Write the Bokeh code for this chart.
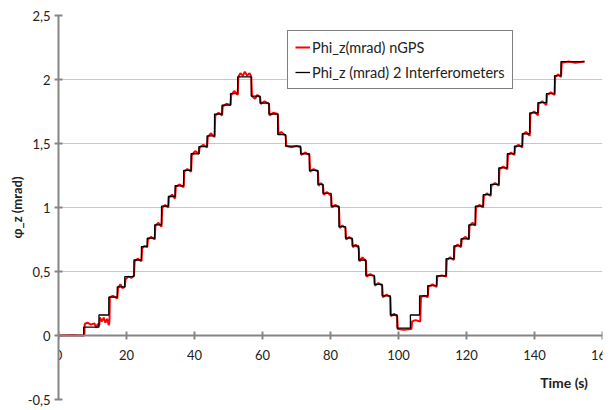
from bokeh.plotting import figure
from bokeh.models import FixedTicker, Label, Legend, LegendItem, Range1d
from bokeh.embed import file_html
from bokeh.resources import INLINE

# ---- data ----
x_ticks = [0, 20, 40, 60, 80, 100, 120, 140, 160]
y_ticks = [-0.5, 0, 0.5, 1, 1.5, 2, 2.5]
y_tick_labels = ["-0,5", "0", "0,5", "1", "1,5", "2", "2,5"]

# black: 2 interferometers, step function (time of step, level after step)
interf_t = [0, 7.4, 11.9, 14.8, 17.3, 19.5, 22.2, 24.4, 26.1, 28.3, 30.3, 32.3, 34.3,
            36.8, 39.0, 41.3, 43.7, 45.9, 48.1, 50.6, 52.7, 56.7, 59.3, 61.9, 64.5,
            66.8, 71.2, 73.8, 76.3, 77.8, 80.2, 82.5, 84.4, 86.4, 88.3, 90.4, 92.9,
            95.2, 97.6, 99.6, 103.5, 106.2, 108.6, 111.2, 114.0, 116.3, 118.4, 120.7,
            122.6, 124.9, 127.1, 129.5, 132.0, 134.1, 136.4, 138.6, 141.0, 143.5,
            145.9, 147.8, 154.7]
interf_v = [0.0, 0.065, 0.16, 0.30, 0.38, 0.46, 0.59, 0.695, 0.76, 0.865, 1.01, 1.086,
            1.17, 1.29, 1.42, 1.476, 1.56, 1.73, 1.80, 1.89, 2.02, 1.87, 1.815, 1.73,
            1.57, 1.48, 1.42, 1.29, 1.18, 1.11, 1.01, 0.85, 0.76, 0.70, 0.59, 0.47,
            0.40, 0.31, 0.16, 0.057, 0.16, 0.31, 0.39, 0.466, 0.60, 0.70, 0.755,
            0.865, 1.01, 1.10, 1.18, 1.31, 1.42, 1.48, 1.576, 1.74, 1.82, 1.89, 2.03,
            2.14, 2.14]

# red: nGPS trace (time, value) points
ngps_pts = [
    (0, 0.0), (4, 0.004), (7.6, 0.0),
    (7.7, 0.09), (8.5, 0.10), (9.5, 0.085), (10.5, 0.095), (11.2, 0.06), (11.5, 0.09), (12.0, 0.08),
    (12.2, 0.14), (12.8, 0.11), (13.3, 0.14), (13.8, 0.10), (14.3, 0.13), (14.8, 0.08), (15.0, 0.12),
    (15.1, 0.30), (16.0, 0.31), (17.3, 0.29),
    (17.5, 0.37), (18.2, 0.40), (18.8, 0.37), (19.5, 0.38),
    (19.7, 0.44), (20.5, 0.46), (21.5, 0.45), (22.2, 0.47),
    (22.4, 0.58), (23.3, 0.60), (24.4, 0.58),
    (24.6, 0.68), (25.3, 0.70), (26.1, 0.69),
    (26.3, 0.75), (27.2, 0.77), (28.3, 0.75),
    (28.5, 0.86), (29.4, 0.88), (30.3, 0.85),
    (30.5, 1.00), (31.4, 1.02), (32.3, 1.00),
    (32.5, 1.08), (33.4, 1.10), (34.3, 1.07),
    (34.5, 1.16), (35.5, 1.18), (36.8, 1.16),
    (37.0, 1.28), (37.9, 1.30), (39.0, 1.28),
    (39.2, 1.41), (40.2, 1.44), (41.3, 1.42),
    (41.5, 1.47), (42.6, 1.49), (43.7, 1.47),
    (43.9, 1.55), (44.8, 1.58), (45.9, 1.55),
    (46.1, 1.72), (47.1, 1.74), (48.1, 1.72),
    (48.3, 1.79), (49.4, 1.81), (50.6, 1.80),
    (50.8, 1.88), (51.7, 1.91), (52.7, 1.88),
    (52.9, 2.02), (53.5, 2.05), (54.2, 2.03), (54.8, 2.06), (55.5, 2.03), (56.2, 2.05), (56.7, 2.02),
    (56.9, 1.87), (57.8, 1.85), (58.5, 1.88), (59.3, 1.86),
    (59.5, 1.81), (60.6, 1.83), (61.9, 1.81),
    (62.1, 1.72), (63.2, 1.74), (64.5, 1.73),
    (64.7, 1.57), (65.5, 1.59), (66.8, 1.56),
    (67.0, 1.48), (68.5, 1.47), (70.0, 1.48), (71.2, 1.47),
    (71.4, 1.41), (72.5, 1.43), (73.8, 1.41),
    (74.0, 1.28), (75.0, 1.30), (76.3, 1.28),
    (76.5, 1.17), (77.2, 1.19), (77.8, 1.17),
    (78.0, 1.10), (79.0, 1.12), (80.2, 1.09),
    (80.4, 1.00), (81.4, 1.02), (82.5, 1.00),
    (82.7, 0.84), (83.5, 0.86), (84.4, 0.84),
    (84.6, 0.75), (85.5, 0.77), (86.4, 0.75),
    (86.6, 0.69), (87.4, 0.71), (88.3, 0.68),
    (88.5, 0.58), (89.4, 0.61), (90.4, 0.58),
    (90.6, 0.46), (91.7, 0.48), (92.9, 0.46),
    (93.1, 0.39), (94.1, 0.41), (95.2, 0.39),
    (95.4, 0.30), (96.5, 0.32), (97.6, 0.30),
    (97.8, 0.15), (98.7, 0.17), (99.6, 0.15),
    (99.8, 0.05), (101.5, 0.045), (103.8, 0.05),
    (104.0, 0.11), (105.0, 0.12), (106.4, 0.11),
    (106.6, 0.30), (107.5, 0.31), (108.6, 0.30),
    (108.8, 0.38), (110.0, 0.40), (111.2, 0.38),
    (111.4, 0.46), (112.7, 0.47), (114.0, 0.46),
    (114.2, 0.59), (115.2, 0.61), (116.3, 0.59),
    (116.5, 0.69), (117.4, 0.71), (118.4, 0.69),
    (118.6, 0.75), (119.6, 0.77), (120.7, 0.75),
    (120.9, 0.86), (121.8, 0.88), (122.6, 0.86),
    (122.8, 1.00), (123.8, 1.02), (124.9, 1.00),
    (125.1, 1.09), (126.0, 1.11), (127.1, 1.09),
    (127.3, 1.17), (128.4, 1.19), (129.5, 1.17),
    (129.7, 1.30), (130.8, 1.32), (132.0, 1.30),
    (132.2, 1.41), (133.1, 1.43), (134.1, 1.41),
    (134.3, 1.47), (135.3, 1.49), (136.4, 1.47),
    (136.6, 1.57), (137.5, 1.59), (138.6, 1.56),
    (138.8, 1.73), (139.9, 1.75), (141.0, 1.72),
    (141.2, 1.81), (142.3, 1.83), (143.5, 1.80),
    (143.7, 1.88), (144.8, 1.90), (145.9, 1.88),
    (146.1, 2.02), (147.0, 2.04), (147.8, 2.02),
    (148.0, 2.13), (150.0, 2.14), (152.0, 2.13), (154.7, 2.14),
]
ngps_t = [a for a, b in ngps_pts]
ngps_v = [b for a, b in ngps_pts]

label_ngps = "Phi_z(mrad) nGPS"
label_interf = "Phi_z (mrad) 2 Interferometers"

FONT = "Lato"

p = figure(width=613, height=407, x_range=Range1d(0, 160), y_range=Range1d(-0.5, 2.5),
           output_backend="svg", toolbar_location=None,
           min_border_left=58, min_border_right=11, min_border_top=15, min_border_bottom=8)
p.outline_line_color = None
p.background_fill_color = "white"

r_red = p.line(ngps_t, ngps_v, line_color="#ff0000", line_width=2)
r_black = p.step(interf_t, interf_v, mode="after", line_color="black", line_width=1.3)

# axes
p.xaxis.fixed_location = 0
for ax in (p.xaxis, p.yaxis):
    ax.axis_line_color = "#868686"
    ax.axis_line_width = 2
    ax.major_tick_line_color = "#868686"
    ax.major_tick_line_width = 2
    ax.major_tick_in = 4
    ax.major_tick_out = 4
    ax.minor_tick_line_color = None
    ax.major_label_text_font = FONT
    ax.major_label_text_font_size = "13px"
    ax.major_label_text_color = "#222222"
p.xaxis.ticker = FixedTicker(ticks=x_ticks)
p.yaxis.ticker = FixedTicker(ticks=y_ticks)
p.yaxis.major_label_overrides = {v: s for v, s in zip(y_ticks, y_tick_labels)}
p.xaxis.major_label_standoff = 10
p.yaxis.major_label_standoff = 4
p.yaxis.axis_label = "φ_z (mrad)"
p.yaxis.axis_label_text_font = FONT
p.yaxis.axis_label_text_font_style = "bold"
p.yaxis.axis_label_text_font_size = "13px"
p.yaxis.axis_label_text_color = "#222222"
p.yaxis.axis_label_standoff = 0

p.xgrid.visible = False
p.ygrid.grid_line_color = "#c8c8c8"
p.ygrid.grid_line_width = 1

p.add_layout(Label(x=148.7, y=-0.367, text="Time (s)", text_align="center",
                   text_baseline="middle", text_font=FONT, text_font_style="bold",
                   text_font_size="14px", text_color="#222222"))

legend = Legend(items=[LegendItem(label=label_ngps, renderers=[r_red]),
                       LegendItem(label=label_interf, renderers=[r_black])],
                location=(229, 310))
legend.border_line_color = "black"
legend.border_line_width = 1
legend.background_fill_color = "white"
legend.background_fill_alpha = 1
legend.label_text_font = FONT
legend.label_text_font_size = "14.5px"
legend.label_text_color = "#222222"
legend.glyph_width = 15
legend.glyph_height = 18
legend.label_height = 18
legend.label_standoff = 2
legend.spacing = 7
legend.padding = 7
legend.margin = 0
p.add_layout(legend)

open("out.html", "w").write(file_html(p, INLINE))
